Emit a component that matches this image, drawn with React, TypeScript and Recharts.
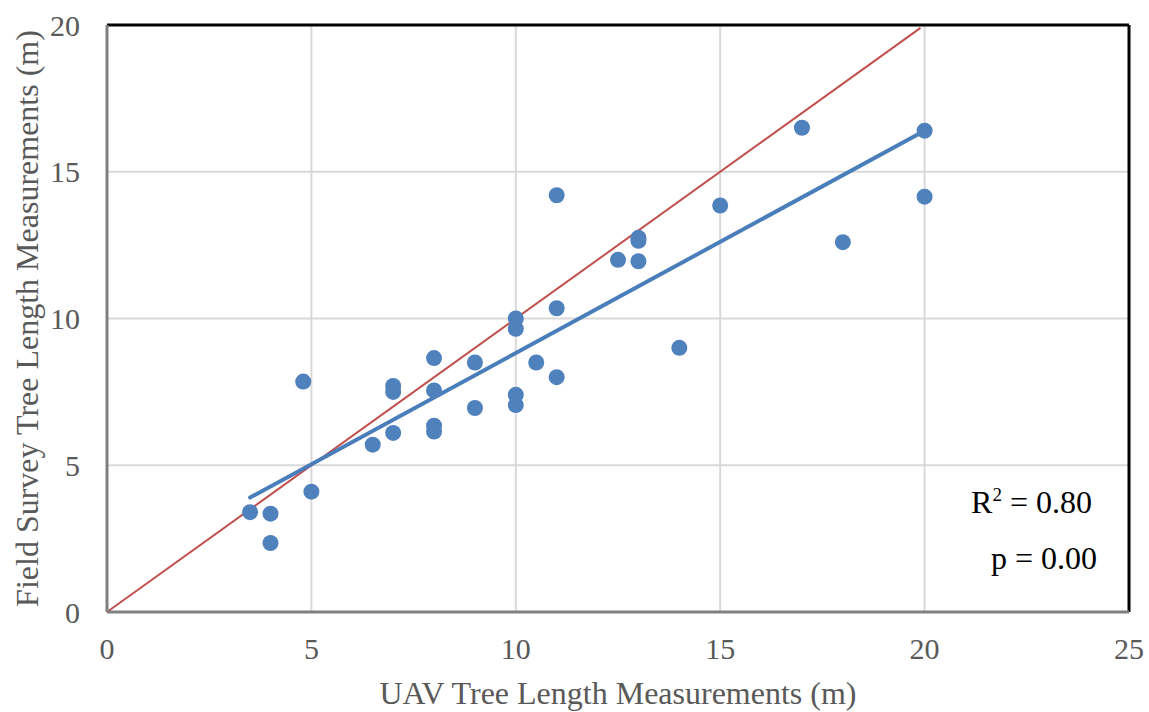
import React from "react";
import {
  ScatterChart,
  Scatter,
  XAxis,
  YAxis,
  CartesianGrid,
  ReferenceLine,
} from "recharts";

const uavLengths = [
  3.5, 4, 4, 4.8, 5, 6.5, 7, 7, 7, 8, 8, 8, 8, 9, 9, 10, 10, 10, 10, 10.5, 11, 11,
  11, 12.5, 13, 13, 13, 14, 15, 17, 18, 20, 20,
];
const fieldLengths = [
  3.4, 3.35, 2.35, 7.85, 4.1, 5.7, 6.1, 7.7, 7.5, 8.65, 7.55, 6.35, 6.15, 8.5, 6.95,
  10.0, 9.65, 7.4, 7.05, 8.5, 8.0, 10.35, 14.2, 12.0, 12.75, 12.65, 11.95, 9.0,
  13.85, 16.5, 12.6, 16.4, 14.15,
];
const trendX = [3.5, 20];
const trendY = [3.9, 16.4];
const identityX = [0, 19.9];
const identityY = [0, 19.9];
const xTicks = [0, 5, 10, 15, 20, 25];
const yTicks = [0, 5, 10, 15, 20];

const xTitle = "UAV Tree Length Measurements (m)";
const yTitle = "Field Survey Tree Length Measurements (m)";

const points = uavLengths.map((x, i) => ({ x, y: fieldLengths[i] }));

const FONT = "'Liberation Serif', 'Times New Roman', serif";
const GRAY_TEXT = "#595959";

export default function App() {
  return (
    <div
      style={{
        position: "absolute",
        left: 0,
        top: 0,
        width: 1149,
        height: 712,
        background: "#fff",
        fontFamily: FONT,
      }}
    >
      <ScatterChart
        width={1149}
        height={712}
        margin={{ top: 25, right: 20, bottom: 0, left: 0 }}
      >
        <CartesianGrid stroke="#D9D9D9" strokeWidth={2} />
        <XAxis
          type="number"
          dataKey="x"
          domain={[0, 25]}
          ticks={xTicks}
          allowDataOverflow
          height={100}
          tickLine={false}
          tickSize={0}
          tickMargin={26}
          axisLine={{ stroke: "#808080", strokeWidth: 3 }}
          tick={{ fill: GRAY_TEXT, fontSize: 30, fontFamily: FONT }}
          label={{
            content: (props: any) => {
              const vb = props.viewBox || {};
              return (
                <text
                  x={vb.x + vb.width / 2}
                  y={vb.y + 92}
                  textAnchor="middle"
                  fill={GRAY_TEXT}
                  fontSize={32}
                  fontFamily={FONT}
                >
                  {xTitle}
                </text>
              );
            },
          }}
        />
        <YAxis
          type="number"
          dataKey="y"
          domain={[0, 20]}
          ticks={yTicks}
          allowDataOverflow
          width={107}
          tickLine={false}
          tickSize={0}
          tickMargin={27}
          axisLine={{ stroke: "#808080", strokeWidth: 3 }}
          tick={{ fill: GRAY_TEXT, fontSize: 30, fontFamily: FONT }}
          label={{
            content: (props: any) => {
              const vb = props.viewBox || {};
              const cx = vb.x + 27;
              const cy = vb.y + vb.height / 2;
              return (
                <text
                  x={cx}
                  y={cy}
                  transform={`rotate(-90 ${cx} ${cy})`}
                  textAnchor="middle"
                  dominantBaseline="central"
                  fill={GRAY_TEXT}
                  fontSize={32}
                  fontFamily={FONT}
                >
                  {yTitle}
                </text>
              );
            },
          }}
        />
        <ReferenceLine y={20} stroke="#000" strokeWidth={3} />
        <ReferenceLine x={25} stroke="#000" strokeWidth={3} />
        <ReferenceLine
          segment={[
            { x: identityX[0], y: identityY[0] },
            { x: identityX[1], y: identityY[1] },
          ]}
          stroke="#C0504D"
          strokeWidth={2}
          ifOverflow="visible"
        />
        <ReferenceLine
          segment={[
            { x: trendX[0], y: trendY[0] },
            { x: trendX[1], y: trendY[1] },
          ]}
          stroke="#4A7EBB"
          strokeWidth={4}
          strokeLinecap="round"
        />
        <Scatter
          data={points}
          fill="#4F81BD"
          isAnimationActive={false}
          shape={(p: any) => <circle cx={p.cx} cy={p.cy} r={8} fill="#4F81BD" />}
        />
      </ScatterChart>
      <div
        style={{
          position: "absolute",
          right: 57,
          top: 486,
          fontSize: 32,
          color: "#000",
          fontFamily: FONT,
          whiteSpace: "nowrap",
          lineHeight: 1,
        }}
      >
        R
        <span style={{ fontSize: 19, position: "relative", top: -12 }}>2</span>
        {" = 0.80"}
      </div>
      <div
        style={{
          position: "absolute",
          right: 52,
          top: 542,
          fontSize: 32,
          color: "#000",
          fontFamily: FONT,
          whiteSpace: "nowrap",
          lineHeight: 1,
        }}
      >
        p = 0.00
      </div>
    </div>
  );
}
